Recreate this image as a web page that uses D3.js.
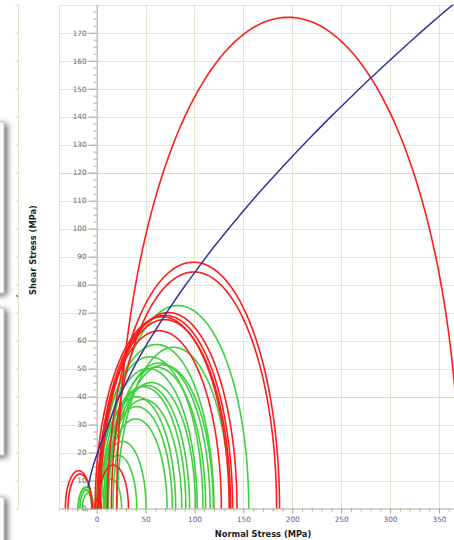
<!DOCTYPE html>
<html>
<head>
<meta charset="utf-8">
<script src="https://cdn.jsdelivr.net/npm/d3@7"></script>
<style>
  body { margin: 0; background: #fff; }
  svg { display: block; }
  text { font-family: "DejaVu Sans", Verdana, sans-serif; }
</style>
</head>
<body>
<svg id="chart" width="454" height="540"></svg>
<script>
// Mohr circles, failed specimens (centre, radius in MPa)
const redCentres = [196, 99, 99.5, 73.5, 70, 67, 69.5, 64, 17, -18.5, -17, 1.5];
const redRadii   = [175.5, 88, 84.5, 70, 69, 68.5, 67.5, 63.5, 15.5, 13.5, 12.3, 3.5];

// Mohr circles, intact specimens (centre, radius in MPa)
const greenCentres = [83, 78.5, 61.3, 54.5, 68, 52.8, 64, 61, 56, 51, 47.7, 48, 40.9, 40.9, 40, 26.5, 22, 15, -11, -10.5, -9, -12];
const greenRadii   = [72.5, 57.6, 58.6, 54.2, 51.3, 50, 52, 50.5, 45, 44, 43.5, 39, 39.9, 36.4, 32, 24, 19, 10.5, 7.7, 6.5, 5.5, 7];

// Failure envelope (normal stress, shear stress in MPa)
const envSigma = [-9, -7, -5, 0, 5, 10, 20, 30, 40, 50, 60, 70, 80, 90, 100, 120, 140, 160, 180, 200, 220, 240, 260, 280, 300, 320, 340, 366];
const envTau   = [7.5, 10.5, 13.5, 19, 24, 28, 37.6, 44.8, 51.7, 57.9, 63.6, 69.2, 74.4, 79.4, 84.2, 93.5, 102.1, 110.4, 118.2, 125.8, 133.1, 140.2, 147, 153.7, 160.2, 166.6, 172.8, 180.5];

const xTicks = [0, 50, 100, 150, 200, 250, 300, 350];
const yTicks = [0, 10, 20, 30, 40, 50, 60, 70, 80, 90, 100, 110, 120, 130, 140, 150, 160, 170];

const svg = d3.select("#chart");
const W = 454, H = 540;

const x = d3.scaleLinear().domain([-38, 366]).range([59.5, 454.6]);
const y = d3.scaleLinear().domain([0, 180]).range([508.5, 4.7]);

const gridCol = "#e4e4cf";

// ---- side panel remnants on the far left ----
const defs = svg.append("defs");
const sh = defs.append("filter").attr("id", "shadow")
  .attr("x", "-50%").attr("y", "-20%").attr("width", "200%").attr("height", "140%");
sh.append("feGaussianBlur").attr("in", "SourceAlpha").attr("stdDeviation", 3).attr("result", "b");
sh.append("feOffset").attr("in", "b").attr("dx", 3).attr("dy", 2).attr("result", "o");
sh.append("feComponentTransfer").attr("in", "o").attr("result", "s")
  .append("feFuncA").attr("type", "linear").attr("slope", 0.6);
const mg = sh.append("feMerge");
mg.append("feMergeNode").attr("in", "s");
mg.append("feMergeNode").attr("in", "SourceGraphic");

const panels = [[122, 293], [308, 455], [497, 560]];
svg.append("g").selectAll("rect").data(panels).join("rect")
  .attr("x", -30).attr("width", 34)
  .attr("y", d => d[0]).attr("height", d => d[1] - d[0])
  .attr("fill", "#fff").attr("stroke", "#b0b0b0").attr("stroke-width", 0.8)
  .attr("filter", "url(#shadow)");

// secondary vertical scale line
svg.append("line").attr("x1", 18.5).attr("x2", 18.5).attr("y1", y(180)).attr("y2", y(0))
  .attr("stroke", "#e2e2cc").attr("stroke-width", 1);
svg.append("g").selectAll("line").data(yTicks.concat([180])).join("line")
  .attr("x1", 15.5).attr("x2", 18.5).attr("y1", d => y(d) + 0.5).attr("y2", d => y(d) + 0.5)
  .attr("stroke", "#d8d8c0");
svg.append("line").attr("x1", 16).attr("x2", 18).attr("y1", 295.5).attr("y2", 296.5)
  .attr("stroke", "#33339a").attr("stroke-width", 1.2);

// ---- plot frame and grid ----
svg.append("line").attr("x1", 59.5).attr("x2", 59.5).attr("y1", y(180)).attr("y2", y(0) + 3)
  .attr("stroke", gridCol);

const grid = svg.append("g");
grid.selectAll("line.h").data(yTicks.slice(1).concat([180])).join("line")
  .attr("class", "h")
  .attr("x1", 59.5).attr("x2", W)
  .attr("y1", d => Math.round(y(d)) + 0.5).attr("y2", d => Math.round(y(d)) + 0.5)
  .attr("stroke", d => (d === 120 || d === 40) ? "#d9d9c0" : gridCol)
  .attr("stroke-width", d => (d === 120 || d === 40) ? 1.2 : 1);
grid.selectAll("line.v").data(xTicks.slice(1)).join("line")
  .attr("class", "v")
  .attr("x1", d => Math.round(x(d)) + 0.5).attr("x2", d => Math.round(x(d)) + 0.5)
  .attr("y1", y(180)).attr("y2", y(0))
  .attr("stroke", gridCol);

// ---- axes ----
const axisCol = "#a8a890";
const minorX = d3.range(-30, 366, 10).filter(v => v % 50 !== 0);
const minorY = d3.range(0, 180, 2.5).filter(v => v % 10 !== 0);

const xAxis = svg.append("g").attr("transform", `translate(0,${y(0)})`)
  .call(d3.axisBottom(x).tickValues(xTicks).tickSize(5).tickPadding(3).tickFormat(d3.format("d")));
const xMinor = svg.append("g").attr("transform", `translate(0,${y(0)})`)
  .call(d3.axisBottom(x).tickValues(minorX).tickSize(3).tickFormat(""));
const yAxis = svg.append("g").attr("transform", `translate(${x(0)},0)`)
  .call(d3.axisLeft(y).tickValues(yTicks).tickSize(8).tickPadding(2).tickFormat(d3.format("d")));
const yMinor = svg.append("g").attr("transform", `translate(${x(0)},0)`)
  .call(d3.axisLeft(y).tickValues(minorY).tickSize(3).tickFormat(""));

[xAxis, xMinor, yAxis, yMinor].forEach(g => {
  g.select(".domain").attr("stroke", axisCol);
  g.selectAll(".tick line").attr("stroke", axisCol);
});
xMinor.select(".domain").remove();
yMinor.select(".domain").remove();
yAxis.select(".domain").attr("d", `M0.5,${y(180)}V${y(0)}`);
xAxis.select(".domain").attr("d", `M59.5,0.5H${W}`);

xAxis.selectAll(".tick text").attr("fill", "#5c5c96").attr("font-size", 7.3)
  .attr("font-family", "DejaVu Sans, sans-serif");
yAxis.selectAll(".tick text").attr("fill", "#6b6b6b").attr("font-size", 7.3)
  .attr("font-family", "DejaVu Sans, sans-serif");

// ---- Mohr circles ----
const clip = defs.append("clipPath").attr("id", "plotClip");
clip.append("rect").attr("x", 59.5).attr("y", y(180)).attr("width", W).attr("height", y(0) - y(180) + 1);

const angles = d3.range(0, 181, 1).map(a => a * Math.PI / 180);
const arcLine = d3.line().x(d => x(d[0])).y(d => y(d[1]));
function semicircle(c, r) {
  return arcLine(angles.map(t => [c + r * Math.cos(t), r * Math.sin(t)]));
}

const plot = svg.append("g").attr("clip-path", "url(#plotClip)");

const greens = greenCentres.map((c, i) => ({ c, r: greenRadii[i] }));
const reds = redCentres.map((c, i) => ({ c, r: redRadii[i] }));

plot.append("g").selectAll("path").data(greens).join("path")
  .attr("d", d => semicircle(d.c, d.r))
  .attr("fill", "none").attr("stroke", "#3fcf3f").attr("stroke-width", 1.6);

plot.append("g").selectAll("path").data(reds).join("path")
  .attr("d", d => semicircle(d.c, d.r))
  .attr("fill", "none").attr("stroke", "#ff1c1c").attr("stroke-width", 1.6);

// ---- failure envelope ----
const env = envSigma.map((s, i) => [s, envTau[i]]);
plot.append("path")
  .attr("d", d3.line().x(d => x(d[0])).y(d => y(d[1])).curve(d3.curveMonotoneX)(env))
  .attr("fill", "none").attr("stroke", "#34349c").attr("stroke-width", 1.5);

// ---- axis titles ----
svg.append("text").attr("x", 263).attr("y", 536.5).attr("text-anchor", "middle")
  .attr("font-size", 8.3).attr("font-weight", "bold").attr("fill", "#222")
  .text("Normal Stress (MPa)");
svg.append("text").attr("transform", "translate(36,250) rotate(-90)").attr("text-anchor", "middle")
  .attr("font-size", 8.3).attr("font-weight", "bold").attr("fill", "#222")
  .text("Shear Stress (MPa)");
</script>
</body>
</html>
